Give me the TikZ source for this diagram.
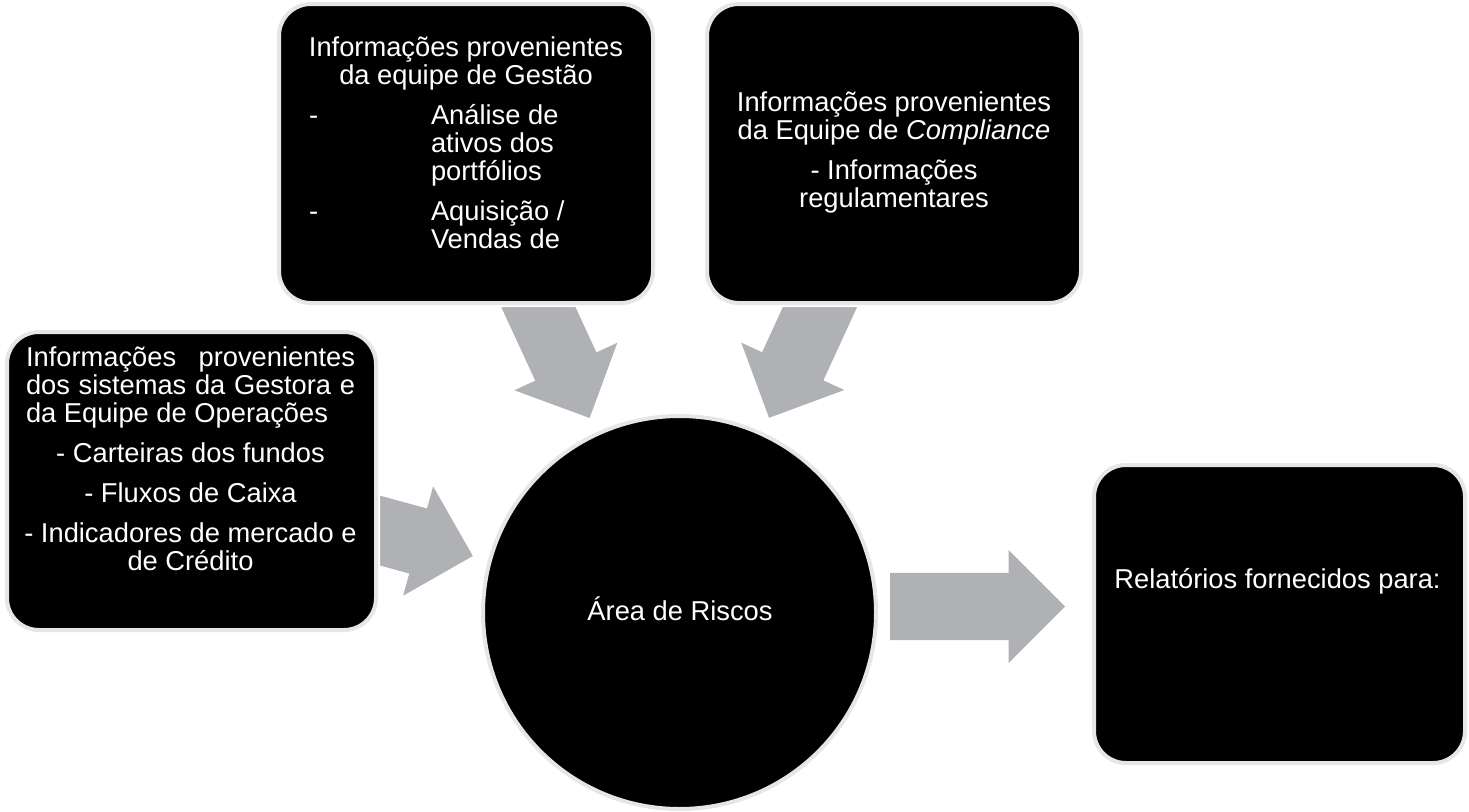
\documentclass[tikz,border=0pt]{standalone}
\usepackage{fontspec}
\setmainfont{Liberation Sans}
\usepackage{xcolor}
\usetikzlibrary{shapes,arrows,positioning,calc}

\definecolor{arrowgray}{RGB}{175,177,181}
\definecolor{rimgray}{RGB}{230,230,230}
\newcommand{\itemline}[2]{\makebox[314pt][l]{\makebox[122pt][l]{#1}#2}}
\newcommand{\fullline}[1]{\makebox[329pt][s]{#1}}

\begin{document}
\begin{tikzpicture}[x=1pt,y=-1pt,
    font=\fontsize{27.3pt}{28pt}\selectfont,
    infobox/.style={draw=rimgray, line width=4pt, fill=black, rounded corners=32pt,
        preaction={draw=white, line width=8pt}, inner sep=0pt},
    hub/.style={circle, draw=rimgray, line width=4pt, fill=black, minimum size=393pt, inner sep=0pt},
    bigarrow/.style={single arrow, fill=arrowgray, draw=none, inner xsep=0pt, inner ysep=33.5pt,
        minimum height=175pt, minimum width=113pt, single arrow head extend=23pt},
    boxtext/.style={text=white, inner sep=0pt, align=center, anchor=north}]

    \useasboundingbox (0,0) rectangle (1469,811);

    % central circle
    \node[hub] (risco) at (679.5,612.5) {};
    \node[text=white, inner sep=0pt, anchor=base] (tRisco) at (680,620) {Área de Riscos};

    % big gray arrows (tails go under the boxes)
    \foreach \ang/\nm in {164.7/arrSist, 114.8/arrGestao, 65.3/arrCompl}
        \node[bigarrow, anchor=tip, rotate=\ang-180] (\nm) at ($(risco.center)+(\ang:214pt)$) {};
    \node[bigarrow, anchor=tail] (arrRelat) at ($(risco.east)+(12pt,6pt)$) {};

    % boxes
    \node[infobox, minimum width=374pt, minimum height=299pt] (gestao) at (466,153.5) {};
    \node[infobox, minimum width=374pt, minimum height=299pt] (compl) at (894,153.5) {};
    \node[infobox, minimum width=369pt, minimum height=298pt] (sist) at (191.5,481) {};
    \node[infobox, minimum width=371pt, minimum height=298pt] (relat) at (1279.5,614) {};

    % texts
    \node[boxtext] (tGestao) at (466,36.5) {Informações provenientes\\ da equipe de Gestão\\[12pt]
        \itemline{-}{Análise de}\\ \itemline{}{ativos dos}\\ \itemline{}{portfólios}\\[12pt]
        \itemline{-}{Aquisição /}\\ \itemline{}{Vendas de}};
    \node[boxtext] (tCompl) at (894,91.5) {Informações provenientes\\
        da Equipe de \textit{Compliance}\\[12pt] - Informações\\ regulamentares};
    \node[boxtext] (tSist) at (190.5,346.5) {\fullline{Informações provenientes}\\
        \fullline{dos sistemas da Gestora e}\\ \makebox[329pt][l]{da Equipe de Operações}\\[12pt]
        - Carteiras dos fundos\\[12pt] - Fluxos de Caixa\\[12pt]
        - Indicadores de mercado e\\ de Crédito};
    \node[text=white, inner sep=0pt, anchor=base] (tRelat) at (1277.5,588) {Relatórios fornecidos para:};
\end{tikzpicture}
\end{document}
